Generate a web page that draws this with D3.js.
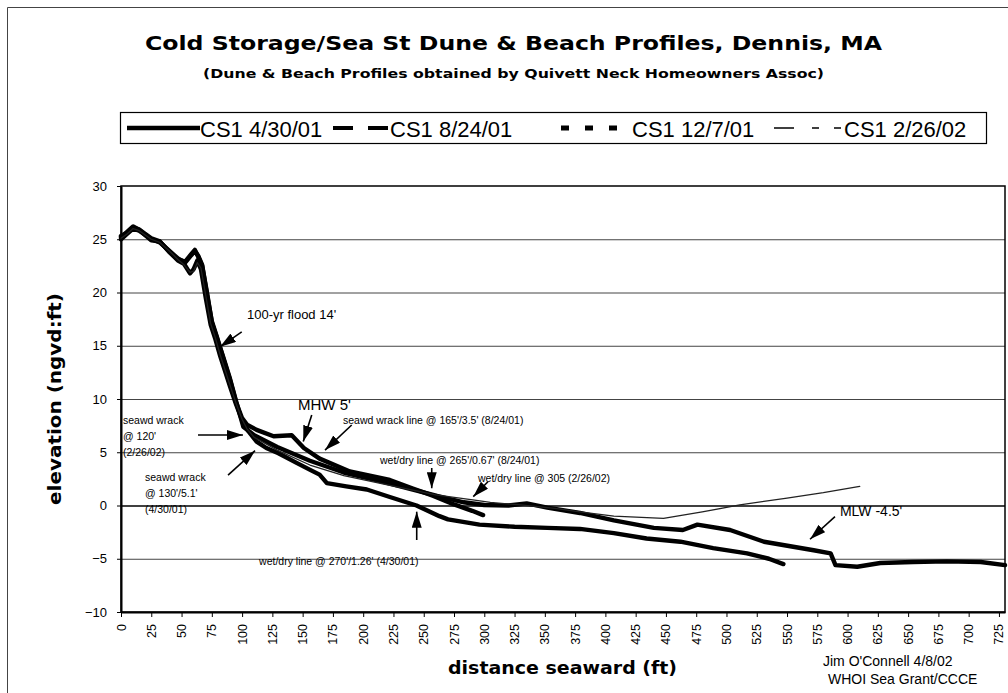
<!DOCTYPE html>
<html><head><meta charset="utf-8">
<script src="https://cdn.jsdelivr.net/npm/d3@7"></script>
<style>
body{margin:0;background:#fff}
svg{display:block}
text{font-family:"Liberation Sans",Arial,sans-serif;fill:#000}
.bold{font-family:"DejaVu Sans",sans-serif;font-weight:bold}
</style>
</head><body>
<svg id="c" width="1008" height="693"></svg>
<script>
// ---------- data ----------
const xTickValues = d3.range(0, 726, 25);
const yTickValues = [-10, -5, 0, 5, 10, 15, 20, 25, 30];
const gridValues = [-5, 0, 5, 10, 15, 20, 25];
const seriesNames = ["CS1 4/30/01", "CS1 8/24/01", "CS1 12/7/01", "CS1 2/26/02"];

const s1x = [0,5,10,15,20,25,32,40,47,52,57,60,63,66,70,74,78,82,86,90,95,100,105,112,120,130,145,157,164,170,186,203,222,244,263,270,296,325,352,379,407,434,462,489,517,535,547];
const s1y = [25.3,25.6,26.1,25.9,25.4,24.9,24.8,23.8,23.0,22.7,21.8,22.2,23.0,22.2,19.5,17.0,15.6,14.0,12.6,11.2,9.5,8.0,7.0,6.0,5.4,4.9,4.0,3.3,2.9,2.1,1.8,1.5,0.8,0.0,-1.0,-1.3,-1.8,-2.0,-2.1,-2.2,-2.6,-3.1,-3.4,-4.0,-4.5,-5.0,-5.5];

const s2x = [0,5,10,15,25,32,40,47,53,58,61,64,67,71,75,79,84,90,95,100,104,112,126,141,151,164,189,222,241,258,275,290,299];
const s2y = [25.0,25.5,26.0,25.8,25.0,24.7,23.9,23.2,22.8,23.5,23.9,23.4,22.6,19.8,17.3,15.9,14.0,11.8,9.7,8.2,7.6,7.1,6.5,6.6,5.4,4.4,3.2,2.4,1.6,0.9,0.1,-0.5,-0.9];

const s3x = [0,5,10,15,25,32,40,47,53,58,61,64,67,71,75,79,84,90,95,101,110,129,156,184,214,241,261,283,300,320,335,352,379,407,440,464,476,503,531,572,586,590,608,627,654,682,710,730];
const s3y = [25.2,25.7,26.2,25.9,25.1,24.8,23.8,23.1,22.9,23.6,24.0,23.3,22.5,20.0,17.2,15.8,14.1,11.9,9.8,7.4,6.6,5.5,4.2,3.1,2.3,1.5,0.9,0.3,0.05,0.0,0.2,-0.2,-0.7,-1.4,-2.1,-2.3,-1.8,-2.3,-3.4,-4.2,-4.5,-5.6,-5.75,-5.4,-5.3,-5.25,-5.3,-5.6];

const s4x = [0,5,10,15,25,32,40,47,52,57,60,63,66,70,74,78,82,86,90,95,100,104,110,129,156,184,222,260,292,305,330,360,379,407,448,480,511,550,580,610];
const s4y = [25.1,25.5,26.0,25.8,25.0,24.7,23.9,23.1,22.6,21.9,22.0,22.8,22.3,19.7,17.1,15.7,14.1,12.7,11.3,9.6,8.1,7.2,6.4,5.2,3.8,2.8,1.9,1.0,0.5,0.3,0.05,-0.3,-0.6,-1.0,-1.2,-0.6,0.05,0.7,1.2,1.8];

// annotation texts: [x, y, lines]
const noteText = [
  [104, 17.5, ["100-yr flood 14'"]],
  [146.2, 8.97, ["MHW 5'"]],
  [183.3, 7.65, ["seawd wrack line @ 165'/3.5' (8/24/01)"]],
  [1.65, 7.65, ["seawd wrack", "@ 120'", "(2/26/02)"]],
  [19.8, 2.3, ["seawd wrack", "@ 130'/5.1'", "(4/30/01)"]],
  [213.9, 3.85, ["wet/dry line @ 265'/0.67' (8/24/01)"]],
  [294.8, 2.25, ["wet/dry line @ 305 (2/26/02)"]],
  [114, -5.63, ["wet/dry line @ 270'/1.26' (4/30/01)"]],
  [593.7, -0.99, ["MLW -4.5'"]]
];
// arrows: [x1, y1, x2(tip), y2(tip)]
const noteArrows = [
  [99.7, 16.3, 81.8, 14.9],
  [157.5, 8.5, 150.5, 6.0],
  [190.5, 7.56, 168.5, 5.2],
  [63.6, 6.62, 100.7, 6.62],
  [88.4, 2.86, 110.7, 5.15],
  [256.6, 3.52, 256.6, 1.62],
  [303, 2.23, 290.9, 0.83],
  [244.2, -3.24, 244.2, -0.58],
  [589.6, -1.05, 569, -3.17]
];

// ---------- chart ----------
const svg = d3.select("#c");
const W = 1008, H = 693;
const m = {left: 121, right: 1005, top: 186, bottom: 612};
const x = d3.scaleLinear().domain([0, 730]).range([m.left, m.right]);
const y = d3.scaleLinear().domain([-10, 30]).range([m.bottom, m.top]);

// outer border
svg.append("path").attr("d", `M7.5,${H} V7.5 H${W}`).attr("fill", "none").attr("stroke", "#444").attr("stroke-width", 1);

// title
svg.append("text").attr("class", "bold").attr("x", 145).attr("y", 50)
  .attr("font-size", 19.5).attr("textLength", 737).attr("lengthAdjust", "spacingAndGlyphs")
  .text("Cold Storage/Sea St Dune & Beach Profiles, Dennis, MA");
svg.append("text").attr("class", "bold").attr("x", 203).attr("y", 78)
  .attr("font-size", 12.5).attr("textLength", 621).attr("lengthAdjust", "spacingAndGlyphs")
  .text("(Dune & Beach Profiles obtained by Quivett Neck Homeowners Assoc)");

// legend
const lg = svg.append("g");
lg.append("rect").attr("x", 120.5).attr("y", 112.5).attr("width", 866).attr("height", 31)
  .attr("fill", "#fff").attr("stroke", "#000").attr("stroke-width", 1.2);
const legendItems = [
  {x1: 127, x2: 200, tx: 200, dash: null, w: 4.5},
  {x1: 333, x2: 388, tx: 390, dash: "20,15", w: 4},
  {x1: 561, x2: 622, tx: 632, dash: "8,16", w: 5},
  {x1: 774, x2: 842, tx: 844, dash: "20,18,7,15,7,30", w: 1.5}
];
legendItems.forEach((it, i) => {
  lg.append("line").attr("x1", it.x1).attr("x2", it.x2).attr("y1", 128).attr("y2", 128)
    .attr("stroke", "#000").attr("stroke-width", it.w).attr("stroke-dasharray", it.dash);
  lg.append("text").attr("x", it.tx).attr("y", 136.5).attr("font-size", 22).text(seriesNames[i]);
});

// gridlines
svg.append("g").selectAll("line").data(gridValues).join("line")
  .attr("x1", m.left).attr("x2", m.right).attr("y1", d => y(d) + 0.5).attr("y2", d => y(d) + 0.5)
  .attr("stroke", d => d === 0 ? "#000" : "#444").attr("stroke-width", d => d === 0 ? 1.3 : 1);

// plot frame
svg.append("rect").attr("x", m.left).attr("y", m.top).attr("width", m.right - m.left).attr("height", m.bottom - m.top)
  .attr("fill", "none").attr("stroke", "#000").attr("stroke-width", 1.5);

// axes
const xAxis = svg.append("g").attr("transform", `translate(0,${m.bottom})`)
  .call(d3.axisBottom(x).tickValues(xTickValues).tickSize(5).tickSizeOuter(0).tickFormat(() => ""));
xAxis.select(".domain").attr("stroke-width", 2);
xAxis.selectAll(".tick text").remove();
// rotated tick labels, reading bottom-to-top, top end just under the axis
const labelFont = 12.5;
svg.append("g").attr("class", "xlabels").selectAll("text").data(xTickValues).join("text")
  .attr("font-size", labelFont)
  .attr("text-anchor", "start")
  .text(d => String(d))
  .each(function(d) {
    const len = String(d).length * 0.556 * labelFont;
    const cx = x(d) + 0.36 * labelFont;      // baseline sits right of tick centre
    const cy = m.bottom + 12 + len;          // start of text (bottom)
    this.setAttribute("transform", "matrix(0,-1,1,0," + cx + "," + cy + ")");
  });

const yAxis = svg.append("g").attr("transform", `translate(${m.left},0)`)
  .call(d3.axisLeft(y).tickValues(yTickValues).tickSize(4).tickSizeOuter(0).tickPadding(10));
yAxis.select(".domain").attr("stroke-width", 2);
yAxis.selectAll(".tick text").attr("font-size", 13).attr("font-family", "Liberation Sans, Arial, sans-serif");

// axis titles
svg.append("text").attr("class", "bold").attr("x", 448).attr("y", 674)
  .attr("font-size", 18).attr("textLength", 229).attr("lengthAdjust", "spacingAndGlyphs")
  .text("distance seaward (ft)");
svg.append("text").attr("class", "bold").attr("transform", "translate(61,399) rotate(-90)")
  .attr("text-anchor", "middle").attr("font-size", 17.5)
  .attr("textLength", 212).attr("lengthAdjust", "spacingAndGlyphs")
  .text("elevation (ngvd:ft)");

// footer
svg.append("text").attr("x", 823).attr("y", 666).attr("font-size", 14).text("Jim O'Connell 4/8/02");
svg.append("text").attr("x", 828).attr("y", 684).attr("font-size", 14).text("WHOI Sea Grant/CCCE");

// series
const line = d3.line().x(d => x(d[0])).y(d => y(d[1]));
const zip = (a, b) => a.map((v, i) => [v, b[i]]);
const series = [
  {pts: zip(s1x, s1y), w: 4.4, c: "#000"},
  {pts: zip(s2x, s2y), w: 4.4, c: "#000"},
  {pts: zip(s3x, s3y), w: 4.4, c: "#000"},
  {pts: zip(s4x, s4y), w: 1.3, c: "#222"}
];
svg.append("g").selectAll("path").data(series).join("path")
  .attr("d", d => line(d.pts)).attr("fill", "none")
  .attr("stroke", d => d.c).attr("stroke-width", d => d.w)
  .attr("stroke-linejoin", "round").attr("stroke-linecap", "round");

// annotations
svg.append("defs").append("marker").attr("id", "ah").attr("viewBox", "0 0 16 10")
  .attr("refX", 16).attr("refY", 5).attr("markerWidth", 16).attr("markerHeight", 10)
  .attr("markerUnits", "userSpaceOnUse").attr("orient", "auto")
  .append("path").attr("d", "M0,0 L16,5 L0,10 Z").attr("fill", "#000");
svg.append("g").selectAll("line").data(noteArrows).join("line")
  .attr("x1", d => x(d[0])).attr("y1", d => y(d[1])).attr("x2", d => x(d[2])).attr("y2", d => y(d[3]))
  .attr("stroke", "#000").attr("stroke-width", 1.6).attr("marker-end", "url(#ah)");

const sizeFor = t => t.startsWith("MHW") ? 15 : t.startsWith("MLW") ? 14 : t.startsWith("100") ? 13 : 10.5;
noteText.forEach(n => {
  const t = svg.append("text").attr("x", x(n[0])).attr("y", y(n[1]));
  n[2].forEach((s, i) => {
    t.append("tspan").attr("x", x(n[0])).attr("dy", i === 0 ? 0 : 16)
      .attr("font-size", sizeFor(s)).text(s);
  });
});
</script>
</body></html>
